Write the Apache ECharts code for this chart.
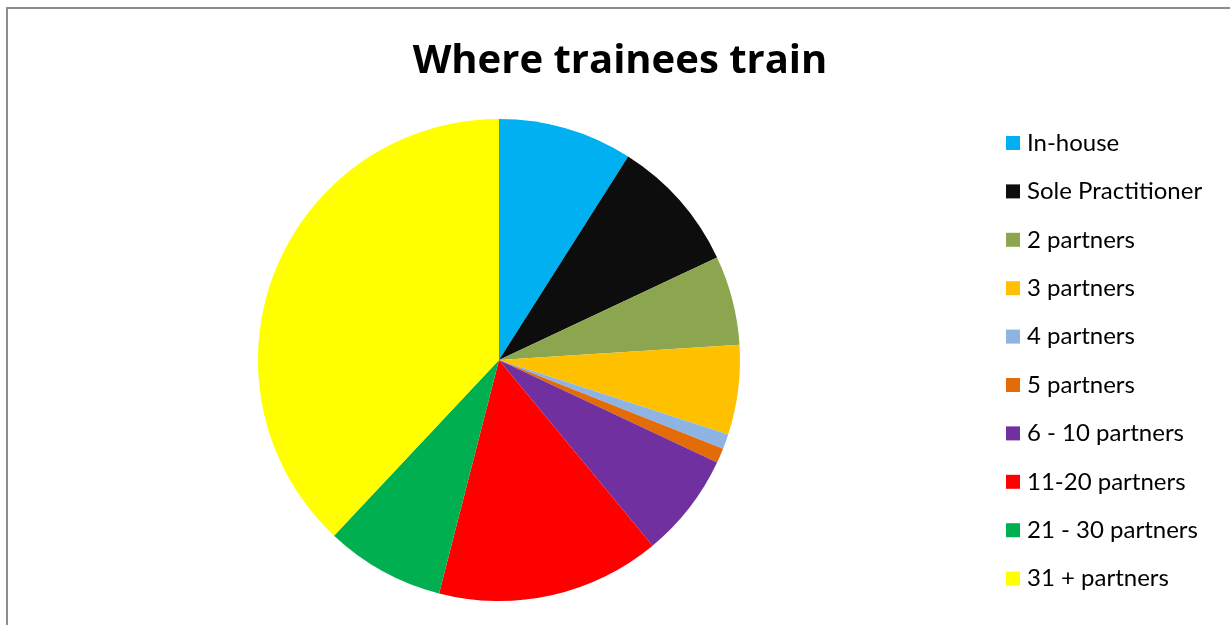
<!DOCTYPE html>
<html>
<head>
<meta charset="utf-8">
<script src="https://cdn.jsdelivr.net/npm/echarts@6/dist/echarts.min.js"></script>
<style>
html,body{margin:0;padding:0;background:#fff;overflow:hidden;}
#frame{position:absolute;left:6px;top:7px;width:1260px;height:660px;border:2px solid #8c8c8c;box-sizing:border-box;}
#chart{position:absolute;left:0;top:0;width:1230px;height:625px;}
</style>
</head>
<body>
<div id="frame"></div>
<div id="chart"></div>
<script>
const categories = ["In-house","Sole Practitioner","2 partners","3 partners","4 partners","5 partners","6 - 10 partners","11-20 partners","21 - 30 partners","31 + partners"];
const values = [9, 9, 6, 6, 1, 1, 7, 15, 8, 38];
const colors = ["#00B0F0","#0D0D0D","#8BA64F","#FFC000","#8DB4E2","#E36C09","#7030A0","#FF0000","#00B050","#FFFF00"];

const chart = echarts.init(document.getElementById('chart'));
chart.setOption({
  animation: false,
  color: colors,
  title: {
    text: "Where trainees train",
    left: 615, top: 37, textAlign: 'center',
    textStyle: {fontFamily: 'Open Sans', fontWeight: 'bold', fontSize: 40, color: '#000'}
  },
  legend: {
    orient: 'vertical',
    left: 1001, top: 126,
    itemWidth: 14, itemHeight: 14, itemGap: 24.4,
    icon: 'rect',
    textStyle: {fontFamily: 'Lato', fontSize: 24, lineHeight: 24, color: '#000', padding: [0,0,0,2]},
    data: categories
  },
  series: [{
    type: 'pie',
    center: [499, 360],
    radius: 241,
    startAngle: 90,
    clockwise: true,
    label: {show: false},
    labelLine: {show: false},
    emphasis: {disabled: true},
    itemStyle: {borderWidth: 0},
    data: categories.map((c, i) => ({name: c, value: values[i]}))
  }]
});
</script>
</body>
</html>
